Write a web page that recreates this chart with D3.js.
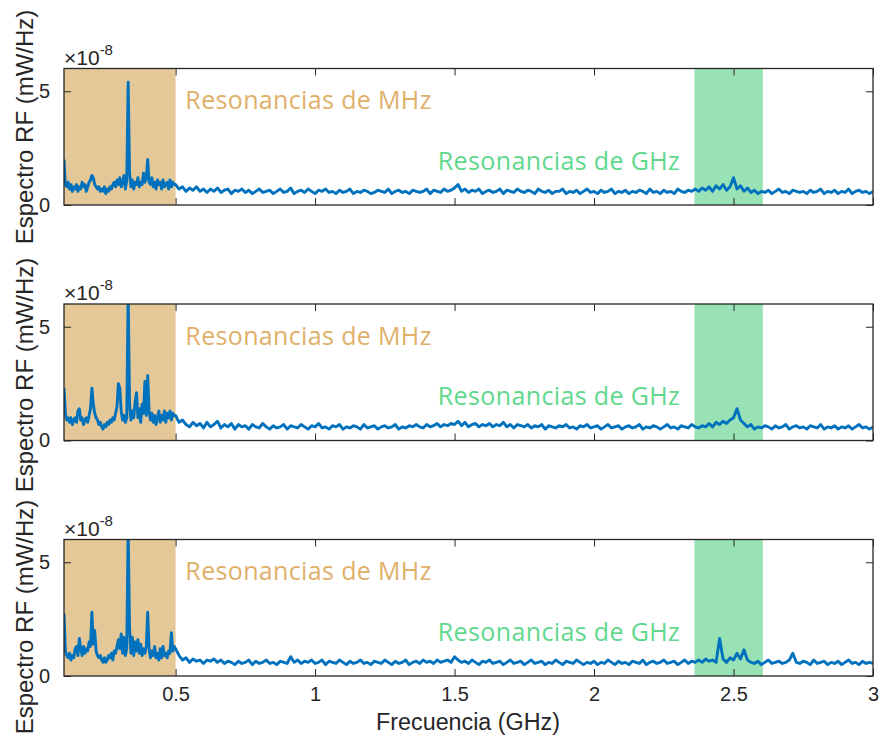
<!DOCTYPE html>
<html>
<head>
<meta charset="utf-8">
<script src="https://cdn.jsdelivr.net/npm/d3@7"></script>
<style>
  body { margin: 0; background: #fff; }
</style>
</head>
<body>
<div id="container"></div>
<script>
const WIDTH = 880;
const HEIGHT = 737;
const LEFT = 64;
const RIGHT = 873;
const PANEL_TOPS = [68.5, 304, 539.5];
const PANEL_H = 136.5;
// vertical centre of each y label
const YLABEL_CENTERS = [127, 375, 617];

// frequency grid (GHz): fine step below 0.5, coarser above
const LOW_FREQ = d3.range(80).map((i) => 0.1 + i * 0.005);
const HIGH_FREQ = d3.range(201).map((i) => 0.5 + i * 0.0125);

const X_TICKS = [0.5, 1, 1.5, 2, 2.5, 3];
const Y_TICKS = [0, 5];
const MHZ_BAND = [0.1, 0.5];
const GHZ_BAND = [2.36, 2.605];
const BAND_LABELS = ["Resonancias de MHz", "Resonancias de GHz"];

// spectra, units of 1e-8 mW/Hz
const low1 = [
  2.0, 0.9, 0.8, 1.0, 0.7, 0.9, 0.6, 0.8, 0.7, 0.9,
  0.6, 0.8, 0.7, 1.0, 0.8, 0.9, 0.6, 0.8, 1.0, 1.1,
  1.3, 1.2, 0.9, 0.8, 0.7, 0.8, 0.6, 0.7, 0.6, 0.8,
  0.5, 0.7, 0.6, 0.8, 0.7, 0.9, 1.0, 0.8, 1.1, 0.9,
  1.2, 0.8, 1.0, 1.3, 0.7, 1.1, 5.4, 1.4, 0.8, 1.1,
  0.7, 1.0, 0.9, 1.2, 0.8, 1.0, 0.9, 1.4, 1.0, 1.2,
  2.0, 1.0, 0.9, 1.2, 0.8, 1.0, 0.7, 1.1, 0.9, 1.0,
  0.7, 1.1, 0.8, 0.9, 1.0, 0.7, 1.1, 0.8, 1.0, 0.9,
];
const high1 = [
  0.9, 0.7, 0.8, 0.6, 0.75, 0.65, 0.8, 0.6, 0.7, 0.55,
  0.7, 0.6, 0.75, 0.55, 0.65, 0.7, 0.5, 0.65, 0.6, 0.7,
  0.55, 0.65, 0.5, 0.6, 0.7, 0.55, 0.6, 0.65, 0.5, 0.6,
  0.7, 0.55, 0.6, 0.75, 0.5, 0.6, 0.65, 0.55, 0.7, 0.6,
  0.5, 0.65, 0.6, 0.7, 0.55, 0.6, 0.5, 0.65, 0.55, 0.6,
  0.7, 0.5, 0.6, 0.55, 0.65, 0.6, 0.5, 0.55, 0.65, 0.6,
  0.55, 0.7, 0.5, 0.6, 0.65, 0.55, 0.6, 0.5, 0.65, 0.6,
  0.55, 0.6, 0.7, 0.5, 0.65, 0.6, 0.55, 0.7, 0.6, 0.65,
  0.75, 0.9, 0.6, 0.7, 0.55, 0.65, 0.6, 0.7, 0.5, 0.6,
  0.65, 0.55, 0.6, 0.7, 0.5, 0.65, 0.6, 0.55, 0.7, 0.6,
  0.55, 0.65, 0.6, 0.5, 0.7, 0.6, 0.55, 0.65, 0.5, 0.6,
  0.6, 0.7, 0.5, 0.6, 0.55, 0.65, 0.5, 0.6, 0.7, 0.55,
  0.6, 0.5, 0.65, 0.55, 0.6, 0.7, 0.5, 0.6, 0.55, 0.65,
  0.5, 0.6, 0.55, 0.65, 0.6, 0.5, 0.7, 0.55, 0.6, 0.5,
  0.65, 0.55, 0.6, 0.5, 0.7, 0.6, 0.55, 0.65, 0.6, 0.7,
  0.6, 0.75, 0.65, 0.8, 0.6, 0.85, 0.7, 0.9, 0.65, 0.8,
  1.2, 0.7, 0.85, 0.6, 0.75, 0.55, 0.65, 0.5, 0.6, 0.55,
  0.65, 0.5, 0.6, 0.7, 0.55, 0.6, 0.5, 0.65, 0.6, 0.55,
  0.6, 0.5, 0.65, 0.55, 0.6, 0.7, 0.5, 0.6, 0.55, 0.65,
  0.5, 0.6, 0.55, 0.7, 0.5, 0.6, 0.65, 0.55, 0.6, 0.5,
  0.6,
];

const low2 = [
  2.3, 1.2, 0.9, 1.0, 0.8, 1.0, 0.7, 0.9, 1.0, 0.8,
  1.3, 1.4, 0.9, 1.0, 0.7, 0.9, 1.0, 0.8, 1.1, 1.4,
  2.3, 1.6, 1.2, 1.0, 0.9, 0.7, 0.8, 0.6, 0.5, 0.7,
  0.6, 0.8, 0.7, 0.9, 0.8, 1.0, 0.9, 1.2, 1.5, 2.5,
  2.3, 1.3, 0.9, 1.1, 0.8, 1.0, 6.5, 1.6, 0.9, 1.3,
  1.0, 1.7, 2.1, 1.0, 1.4, 0.8, 1.6, 1.2, 2.6, 1.1,
  2.85, 1.3, 0.9, 1.2, 0.8, 1.1, 0.7, 1.0, 1.3, 0.8,
  1.1, 0.9, 1.3, 0.8, 1.2, 1.0, 1.3, 0.9, 1.2, 1.1,
];
const high2 = [
  1.1, 0.8, 0.9, 0.7, 0.6, 0.8, 0.65, 0.75, 0.55, 0.8,
  0.6, 0.7, 0.85, 0.55, 0.7, 0.6, 0.75, 0.5, 0.7, 0.6,
  0.65, 0.5, 0.7, 0.6, 0.55, 0.75, 0.6, 0.5, 0.65, 0.55,
  0.6, 0.7, 0.5, 0.65, 0.6, 0.55, 0.7, 0.6, 0.5, 0.65,
  0.6, 0.75, 0.55, 0.6, 0.5, 0.65, 0.6, 0.7, 0.5, 0.6,
  0.55, 0.65, 0.6, 0.5, 0.7, 0.55, 0.6, 0.65, 0.5, 0.6,
  0.65, 0.55, 0.6, 0.7, 0.5, 0.6, 0.55, 0.65, 0.6, 0.7,
  0.6, 0.55, 0.7, 0.6, 0.65, 0.75, 0.6, 0.7, 0.65, 0.75,
  0.7, 0.85, 0.65, 0.8, 0.6, 0.7, 0.75, 0.6, 0.7, 0.65,
  0.75, 0.6, 0.7, 0.65, 0.8, 0.6, 0.7, 0.55, 0.7, 0.65,
  0.6, 0.7, 0.55, 0.65, 0.6, 0.7, 0.5, 0.65, 0.6, 0.55,
  0.65, 0.6, 0.7, 0.55, 0.6, 0.5, 0.65, 0.6, 0.7, 0.55,
  0.6, 0.65, 0.5, 0.6, 0.7, 0.55, 0.6, 0.65, 0.5, 0.6,
  0.65, 0.55, 0.6, 0.7, 0.5, 0.6, 0.55, 0.65, 0.6, 0.5,
  0.6, 0.7, 0.55, 0.6, 0.5, 0.65, 0.6, 0.55, 0.7, 0.6,
  0.55, 0.65, 0.6, 0.75, 0.6, 0.8, 0.7, 0.85, 0.75, 0.9,
  1.0, 1.4, 0.9, 0.75, 0.6, 0.7, 0.5, 0.6, 0.55, 0.65,
  0.6, 0.5, 0.65, 0.55, 0.6, 0.7, 0.5, 0.6, 0.65, 0.55,
  0.6, 0.5, 0.65, 0.6, 0.55, 0.7, 0.5, 0.6, 0.55, 0.65,
  0.5, 0.6, 0.55, 0.65, 0.5, 0.6, 0.7, 0.55, 0.6, 0.5,
  0.6,
];

const low3 = [
  2.75, 1.1, 0.9, 0.8, 1.0, 0.7, 0.9, 0.8, 1.2, 1.3,
  0.9, 1.65, 1.2, 0.9, 1.3, 1.0, 1.2, 1.1, 1.5, 1.3,
  2.8, 1.4, 2.0, 1.1, 0.9, 0.8, 0.9, 0.7, 0.6, 0.8,
  0.6, 0.7, 0.9, 0.8, 1.0, 0.7, 1.1, 1.0, 1.3, 1.6,
  1.2, 1.85, 1.0, 1.7, 0.9, 1.2, 6.5, 2.1, 1.0, 1.7,
  0.9, 1.5, 1.1, 1.6, 1.0, 1.4, 0.9, 1.2, 1.0, 1.3,
  2.8, 1.2, 0.8, 1.1, 0.9, 1.3, 0.8, 1.0, 0.7, 1.2,
  0.8, 1.3, 0.9, 1.0, 0.8, 1.1, 1.0, 1.9, 1.1, 1.3,
];
const high3 = [
  1.2, 0.9, 0.7, 0.8, 0.6, 0.75, 0.65, 0.7, 0.55, 0.7,
  0.65, 0.75, 0.6, 0.7, 0.55, 0.65, 0.6, 0.5, 0.65, 0.55,
  0.6, 0.7, 0.5, 0.65, 0.55, 0.6, 0.7, 0.55, 0.6, 0.5,
  0.65, 0.6, 0.55, 0.85, 0.6, 0.7, 0.55, 0.65, 0.6, 0.7,
  0.55, 0.6, 0.7, 0.5, 0.65, 0.6, 0.55, 0.7, 0.6, 0.5,
  0.65, 0.55, 0.6, 0.7, 0.55, 0.6, 0.5, 0.65, 0.6, 0.55,
  0.7, 0.6, 0.5, 0.65, 0.55, 0.6, 0.7, 0.5, 0.6, 0.65,
  0.55, 0.7, 0.6, 0.65, 0.55, 0.7, 0.6, 0.65, 0.7, 0.6,
  0.85, 0.7, 0.6, 0.65, 0.55, 0.7, 0.6, 0.5, 0.65, 0.6,
  0.7, 0.55, 0.6, 0.65, 0.5, 0.6, 0.7, 0.55, 0.6, 0.65,
  0.5, 0.6, 0.7, 0.55, 0.6, 0.65, 0.5, 0.6, 0.55, 0.7,
  0.6, 0.5, 0.65, 0.6, 0.55, 0.7, 0.6, 0.5, 0.6, 0.55,
  0.65, 0.5, 0.6, 0.55, 0.7, 0.6, 0.5, 0.65, 0.55, 0.6,
  0.5, 0.65, 0.6, 0.55, 0.7, 0.5, 0.6, 0.65, 0.55, 0.6,
  0.7, 0.55, 0.6, 0.65, 0.5, 0.6, 0.7, 0.55, 0.65, 0.6,
  0.7, 0.6, 0.75, 0.65, 0.7, 0.6, 1.65, 0.75, 0.6, 0.8,
  0.7, 1.0, 0.75, 1.15, 0.7, 0.6, 0.55, 0.65, 0.5, 0.6,
  0.7, 0.55, 0.6, 0.65, 0.55, 0.6, 0.7, 1.0, 0.6, 0.55,
  0.65, 0.6, 0.5, 0.7, 0.55, 0.6, 0.65, 0.5, 0.6, 0.55,
  0.65, 0.5, 0.6, 0.7, 0.55, 0.6, 0.5, 0.65, 0.55, 0.6,
  0.55,
];

const SPECTRA = [
  [low1, high1],
  [low2, high2],
  [low3, high3],
];

const AXIS_FONT = "'Liberation Sans', Arial, sans-serif";
const AXIS_COLOR = "#262626";

const svg = d3
  .select("div#container")
  .append("svg")
  .attr("width", WIDTH)
  .attr("height", HEIGHT);

const x = d3.scaleLinear().domain([0.1, 3]).range([LEFT, RIGHT]);

SPECTRA.forEach(([low, high], i) => {
  const top = PANEL_TOPS[i];
  const bottom = top + PANEL_H;
  const y = d3.scaleLinear().domain([0, 6]).range([bottom, top]);

  const points = LOW_FREQ.map((f, k) => [f, low[k]]).concat(
    HIGH_FREQ.map((f, k) => [f, high[k]])
  );

  const g = svg.append("g");

  svg
    .append("clipPath")
    .attr("id", `clip${i}`)
    .append("rect")
    .attr("x", LEFT)
    .attr("y", top)
    .attr("width", RIGHT - LEFT)
    .attr("height", PANEL_H);

  // shaded resonance bands
  g.append("rect")
    .attr("x", x(MHZ_BAND[0]))
    .attr("y", top)
    .attr("width", x(MHZ_BAND[1]) - x(MHZ_BAND[0]))
    .attr("height", PANEL_H)
    .attr("fill", "#e5c898");

  g.append("rect")
    .attr("x", x(GHZ_BAND[0]))
    .attr("y", top)
    .attr("width", x(GHZ_BAND[1]) - x(GHZ_BAND[0]))
    .attr("height", PANEL_H)
    .attr("fill", "#99e2b5");

  g.append("path")
    .datum(points)
    .attr("clip-path", `url(#clip${i})`)
    .attr("fill", "none")
    .attr("stroke", "#0072bd")
    .attr("stroke-width", 2.9)
    .attr("stroke-linejoin", "round")
    .attr("d", d3.line().x((d) => x(d[0])).y((d) => y(d[1])));

  g.append("text")
    .attr("x", x(0.535))
    .attr("y", y(4.2))
    .attr("font-family", "'Open Sans', sans-serif")
    .attr("font-size", 25)
    .attr("textLength", 246)
    .attr("fill", "#e0b06a")
    .text(BAND_LABELS[0]);

  g.append("text")
    .attr("x", x(1.44))
    .attr("y", y(1.54))
    .attr("font-family", "'Open Sans', sans-serif")
    .attr("font-size", 25)
    .attr("textLength", 242)
    .attr("fill", "#5fd88d")
    .text(BAND_LABELS[1]);

  // axes, ticks inside
  const bottomAxis = d3
    .axisBottom(x)
    .tickValues(X_TICKS)
    .tickSizeInner(-7)
    .tickSizeOuter(0)
    .tickPadding(11)
    .tickFormat(i === 2 ? d3.format("") : () => "");
  const topAxis = d3.axisTop(x).tickValues(X_TICKS).tickSizeInner(-7).tickSizeOuter(0).tickFormat(() => "");
  const leftAxis = d3
    .axisLeft(y)
    .tickValues(Y_TICKS)
    .tickSizeInner(-7)
    .tickSizeOuter(0)
    .tickPadding(14)
    .tickFormat(d3.format(""));
  const rightAxis = d3.axisRight(y).tickValues(Y_TICKS).tickSizeInner(-7).tickSizeOuter(0).tickFormat(() => "");

  [
    [bottomAxis, `translate(0,${bottom})`],
    [topAxis, `translate(0,${top})`],
    [leftAxis, `translate(${LEFT},0)`],
    [rightAxis, `translate(${RIGHT},0)`],
  ].forEach(([axis, tr]) => {
    const a = svg.append("g").attr("transform", tr).call(axis);
    a.select(".domain").remove();
    a.selectAll("line").attr("stroke", AXIS_COLOR);
    a.selectAll("text")
      .attr("font-family", AXIS_FONT)
      .attr("font-size", 20)
      .attr("fill", AXIS_COLOR);
  });

  svg
    .append("rect")
    .attr("x", LEFT)
    .attr("y", top)
    .attr("width", RIGHT - LEFT)
    .attr("height", PANEL_H)
    .attr("fill", "none")
    .attr("stroke", AXIS_COLOR)
    .attr("stroke-width", 1.3);

  // exponent
  const exp = svg
    .append("text")
    .attr("x", LEFT)
    .attr("y", top - 4)
    .attr("font-family", AXIS_FONT)
    .attr("font-size", 21)
    .attr("fill", AXIS_COLOR);
  exp.append("tspan").text("\u00d710");
  exp.append("tspan").attr("dy", -10).attr("font-size", 15).text("-8");

  svg
    .append("text")
    .attr("transform", `translate(33,${YLABEL_CENTERS[i]}) rotate(-90)`)
    .attr("text-anchor", "middle")
    .attr("font-family", AXIS_FONT)
    .attr("font-size", 24)
    .attr("fill", AXIS_COLOR)
    .text("Espectro RF (mW/Hz)");
});

svg
  .append("text")
  .attr("x", 468)
  .attr("y", 730)
  .attr("text-anchor", "middle")
  .attr("font-family", AXIS_FONT)
  .attr("font-size", 23.3)
  .attr("fill", AXIS_COLOR)
  .text("Frecuencia (GHz)");
</script>
</body>
</html>
